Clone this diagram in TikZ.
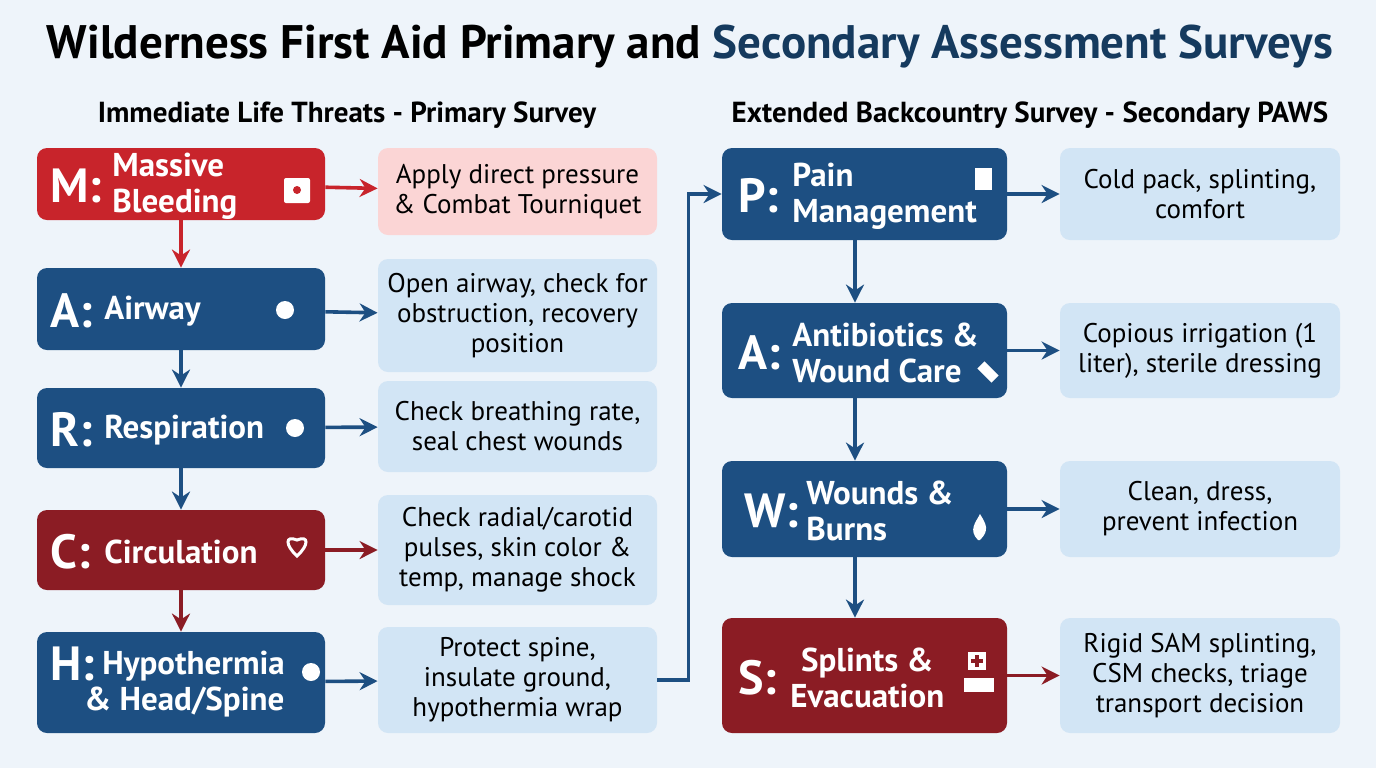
\documentclass[tikz,border=0pt]{standalone}
\usepackage{fontspec}
\setmainfont{PT Sans}
\usetikzlibrary{arrows.meta}
\definecolor{bg}{HTML}{EEF4FA}
\definecolor{bl}{HTML}{1D4F82}
\definecolor{rd}{HTML}{C8242B}
\definecolor{dr}{HTML}{8B1C24}
\definecolor{lb}{HTML}{D2E5F5}
\definecolor{pk}{HTML}{FBD5D5}
\definecolor{nv}{HTML}{153A5E}
\tikzset{
 box/.style={rounded corners=5pt,minimum width=#1,inner sep=0pt},
 lt/.style={text=white,font=\bfseries\fontsize{24}{24}\selectfont,anchor=west,inner sep=0pt},
 tx/.style={text=white,font=\bfseries\fontsize{16.5}{18}\selectfont,anchor=west,align=left,inner sep=0pt},
 ds/.style={font=\fontsize{13.5}{15}\selectfont,align=center,text=black},
 ar/.style={-{Stealth[length=9pt,width=9pt]},line width=1.8pt,draw=#1},
 ic/.style={white,line width=1pt}
}
\begin{document}
\begin{tikzpicture}[x=0.5pt,y=-0.5pt]
\fill[bg] (0,0) rectangle (1376,768);
\useasboundingbox (0,0) rectangle (1376,768);
\node[font=\bfseries\fontsize{23.5}{25}\selectfont] (title) at (690,47) {Wilderness First Aid Primary and \textcolor{nv}{Secondary Assessment Surveys}};
\node[font=\bfseries\fontsize{14.5}{16}\selectfont] (s1) at (347,115) {Immediate Life Threats - Primary Survey};
\node[font=\bfseries\fontsize{14.5}{16}\selectfont] (s2) at (1030,115) {Extended Backcountry Survey - Secondary PAWS};
% left column
\node[box=144pt,minimum height=36pt,fill=rd] (m) at (181,184) {};
\node[box=144pt,minimum height=41pt,fill=bl] (a) at (181,309) {};
\node[box=144pt,minimum height=40pt,fill=bl] (r) at (181,428) {};
\node[box=144pt,minimum height=40pt,fill=dr] (c) at (181,550) {};
\node[box=144pt,minimum height=50.5pt,fill=bl] (h) at (181,682.5) {};
\node[lt] (mL) at (50,186) {M:}; \node[tx] (mT) at (112,186) {Massive\\Bleeding};
\node[lt] (aL) at (50,311) {A:}; \node[tx] (aT) at (104,311) {Airway};
\node[lt] (rL) at (50,430) {R:}; \node[tx] (rT) at (104,430) {Respiration};
\node[lt] (cL) at (50,552) {C:}; \node[tx] (cT) at (104,552) {Circulation};
\node[lt] (hL) at (50,664) {H:}; \node[tx] (hT) at (84,684) {\hspace*{9pt}Hypothermia\\\& Head/Spine};
% descriptions left
\node[box=139.5pt,minimum height=43.5pt,fill=pk] (md) at (517.5,191.5) {};
\node[box=139.5pt,minimum height=56.5pt,fill=lb] (ad) at (517.5,315.5) {};
\node[box=139.5pt,minimum height=45.5pt,fill=lb] (rd) at (517.5,426.5) {};
\node[box=139.5pt,minimum height=55pt,fill=lb] (cd) at (517.5,550) {};
\node[box=139.5pt,minimum height=53pt,fill=lb] (hd) at (517.5,680) {};
\node[ds] at (md) {Apply direct pressure\\\& Combat Tourniquet};
\node[ds] at (ad) {Open airway, check for\\obstruction, recovery\\position};
\node[ds] at (rd) {Check breathing rate,\\seal chest wounds};
\node[ds] at (cd) {Check radial/carotid\\pulses, skin color \&\\temp, manage shock};
\node[ds] at (hd) {Protect spine,\\insulate ground,\\hypothermia wrap};
% right column
\node[box=142.5pt,minimum height=46pt,fill=bl] (p) at (864.5,194) {};
\node[box=142.5pt,minimum height=47.5pt,fill=bl] (a2) at (864.5,350.5) {};
\node[box=142.5pt,minimum height=48pt,fill=bl] (w) at (864.5,509) {};
\node[box=142.5pt,minimum height=57.5pt,fill=dr] (s) at (864.5,675.5) {};
\node[lt] at (738,196) {P:}; \node[tx] at (792,196) {Pain\\Management};
\node[lt] at (738,353) {A:}; \node[tx] at (792,353) {Antibiotics \&\\Wound Care};
\node[lt] at (744,511) {W:}; \node[tx] at (806,511) {Wounds \&\\Burns};
\node[lt] at (738,678) {S:}; \node[tx,align=center] at (790,678) {Splints \&\\Evacuation};
\node[box=140pt,minimum height=46pt,fill=lb] (pd) at (1200,194) {};
\node[box=140pt,minimum height=47.5pt,fill=lb] (a2d) at (1200,350.5) {};
\node[box=140pt,minimum height=48pt,fill=lb] (wd) at (1200,509) {};
\node[box=140pt,minimum height=57.5pt,fill=lb] (sd) at (1200,675.5) {};
\node[ds] at (pd) {Cold pack, splinting,\\comfort};
\node[ds] at (a2d) {Copious irrigation (1\\liter), sterile dressing};
\node[ds] at (wd) {Clean, dress,\\prevent infection};
\node[ds] at (sd) {Rigid SAM splinting,\\CSM checks, triage\\transport decision};
% icons
\fill[white,rounded corners=1pt] (284,178) rectangle (310,203); \fill[rd] (297,190) circle (4);
\fill[white] (285,310) circle (9); \fill[white] (295,428) circle (9);
\draw[ic,line width=1.5pt] (297,556) .. controls (285,545) and (285,535) .. (297,540) .. controls (309,535) and (309,545) .. (297,556) -- cycle;
\fill[white] (311,672) circle (9);
\fill[white] (975,168) rectangle (992,190);
\fill[white,rotate around={-45:(988,372)}] (978,367) rectangle (998,377);
\fill[white] (978,540) .. controls (968,530) and (976,522) .. (980,514) .. controls (986,524) and (990,530) .. (980,540) -- cycle;
\fill[white] (968,652) rectangle (986,670); \fill[dr] (975,655) rectangle (979,667); \fill[dr] (971,659) rectangle (983,663);
\fill[white] (964,678) rectangle (994,692);
% arrows
\draw[ar=rd] (m) -- (md);
\draw[ar=bl] (a) -- (ad);
\draw[ar=bl] (r) -- (rd);
\draw[ar=dr] (c) -- (cd);
\draw[ar=bl] (h) -- (hd);
\draw[ar=rd] (m) -- (a);
\draw[ar=bl] (a) -- (r);
\draw[ar=bl] (r) -- (c);
\draw[ar=dr] (c) -- (h);
\draw[ar=bl] (hd.east) -- ++(31,0) |- (p.west);
\draw[ar=bl] (p) -- (pd);
\draw[ar=bl] (a2) -- (a2d);
\draw[ar=bl] (w) -- (wd);
\draw[ar=dr] (s) -- (sd);
\draw[ar=bl] (p.south -| 855,0) -- (a2.north -| 855,0);
\draw[ar=bl] (a2.south -| 855,0) -- (w.north -| 855,0);
\draw[ar=bl] (w.south -| 855,0) -- (s.north -| 855,0);
\end{tikzpicture}
\end{document}
